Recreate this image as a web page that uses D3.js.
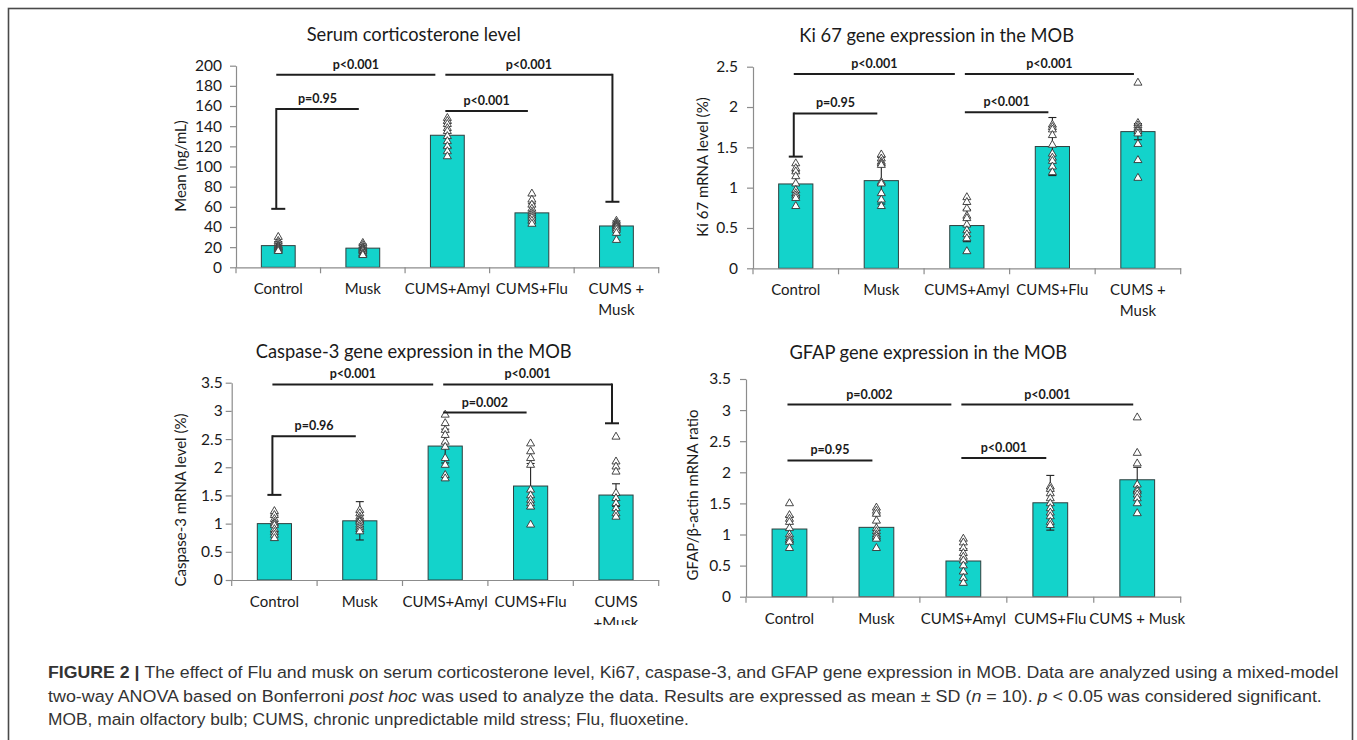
<!DOCTYPE html>
<html><head><meta charset="utf-8">
<script src="https://cdn.jsdelivr.net/npm/d3@7"></script>
<style>body{margin:0;background:#fff}svg{display:block}</style>
</head><body>
<svg id="c" width="1357" height="740"></svg>
<script>
// ---------------- DATA ----------------
const categories = ["Control", "Musk", "CUMS+Amyl", "CUMS+Flu", "CUMS + Musk"];
const labelsTop = [["Control"], ["Musk"], ["CUMS+Amyl"], ["CUMS+Flu"], ["CUMS +", "Musk"]];
const labelsCasp = [["Control"], ["Musk"], ["CUMS+Amyl"], ["CUMS+Flu"], ["CUMS", "+Musk"]];
const labelsGfap = [["Control"], ["Musk"], ["CUMS+Amyl"], ["CUMS+Flu"], ["CUMS + Musk"]];

const serumTitle = "Serum corticosterone level";
const serumYLabel = "Mean (ng/mL)";
const serumTicks = [0, 20, 40, 60, 80, 100, 120, 140, 160, 180, 200];
const serumMeans = [21.5, 19, 131, 54, 41];
const serumSD = [4, 4, 12, 9, 5];
const serumPoints = [
  [30, 26, 24, 22, 21, 20, 19, 18, 17, 16],
  [24, 22, 20, 19, 18, 17, 16, 14, 13, 12],
  [148, 145, 142, 138, 135, 130, 125, 120, 115, 110],
  [73, 67, 62, 58, 55, 53, 51, 49, 46, 43],
  [46, 44, 43, 42, 41, 40, 39, 37, 34, 27]
];
const serumBrackets = [
  {a: "Control", b: "Musk", v: 157, text: "p=0.95", dropA: 58},
  {a: "Control", b: "CUMS+Amyl", v: 191, text: "p<0.001"},
  {a: "CUMS+Amyl", b: "CUMS + Musk", v: 191, text: "p<0.001", dropB: 65},
  {a: "CUMS+Amyl", b: "CUMS+Flu", v: 155, text: "p<0.001"}
];

const kiTitle = "Ki 67 gene expression in the MOB";
const kiYLabel = "Ki 67 mRNA level (%)";
const kiTicks = [0, 0.5, 1, 1.5, 2, 2.5];
const kiMeans = [1.046, 1.087, 0.53, 1.51, 1.695];
const kiSD = [0.15, 0.29, 0.2, 0.36, 0.1];
const kiPoints = [
  [1.30, 1.24, 1.20, 1.14, 1.05, 0.97, 0.93, 0.90, 0.87, 0.77],
  [1.41, 1.36, 1.32, 1.30, 1.28, 1.07, 1.05, 0.93, 0.85, 0.77],
  [0.88, 0.82, 0.74, 0.65, 0.62, 0.54, 0.47, 0.42, 0.37, 0.21],
  [1.78, 1.75, 1.72, 1.65, 1.53, 1.42, 1.37, 1.33, 1.26, 1.19],
  [2.30, 1.80, 1.77, 1.74, 1.72, 1.70, 1.67, 1.54, 1.34, 1.12]
];
const kiBrackets = [
  {a: "Control", b: "Musk", v: 1.92, text: "p=0.95", dropA: 1.385},
  {a: "Control", b: "CUMS+Amyl", v: 2.41, text: "p<0.001"},
  {a: "CUMS+Amyl", b: "CUMS + Musk", v: 2.41, text: "p<0.001"},
  {a: "CUMS+Amyl", b: "CUMS+Flu", v: 1.935, text: "p<0.001"}
];

const caspTitle = "Caspase-3 gene expression in the MOB";
const caspYLabel = "Caspase-3 mRNA level (%)";
const caspTicks = [0, 0.5, 1, 1.5, 2, 2.5, 3, 3.5];
const caspMeans = [1.0, 1.05, 2.376, 1.667, 1.507];
const caspSD = [0.15, 0.34, 0.3, 0.4, 0.2];
const caspPoints = [
  [1.22, 1.15, 1.08, 1.03, 1.00, 0.97, 0.90, 0.85, 0.80, 0.74],
  [1.24, 1.18, 1.12, 1.08, 1.05, 1.03, 0.98, 0.94, 0.90, 0.86],
  [2.93, 2.78, 2.66, 2.57, 2.45, 2.36, 2.16, 2.04, 1.86, 1.80],
  [2.42, 2.28, 2.16, 2.04, 1.60, 1.50, 1.42, 1.36, 1.30, 0.98],
  [2.54, 2.10, 2.01, 1.92, 1.54, 1.45, 1.36, 1.27, 1.18, 1.12]
];
const caspBrackets = [
  {a: "Control", b: "Musk", v: 2.55, text: "p=0.96", dropA: 1.51},
  {a: "Control", b: "CUMS+Amyl", v: 3.47, text: "p<0.001"},
  {a: "CUMS+Amyl", b: "CUMS + Musk", v: 3.47, text: "p<0.001", dropB: 2.78},
  {a: "CUMS+Amyl", b: "CUMS+Flu", v: 2.97, text: "p=0.002"}
];

const gfapTitle = "GFAP gene expression in the MOB";
const gfapYLabel = "GFAP/β-actin mRNA ratio";
const gfapTicks = [0, 0.5, 1, 1.5, 2, 2.5, 3, 3.5];
const gfapMeans = [1.088, 1.115, 0.574, 1.51, 1.88];
const gfapSD = [0.2, 0.2, 0.2, 0.44, 0.2];
const gfapPoints = [
  [1.50, 1.31, 1.25, 1.20, 1.10, 1.00, 0.95, 0.91, 0.88, 0.78],
  [1.43, 1.38, 1.33, 1.22, 1.10, 1.05, 1.00, 0.97, 0.93, 0.78],
  [0.93, 0.87, 0.78, 0.70, 0.64, 0.58, 0.50, 0.40, 0.30, 0.22],
  [1.77, 1.73, 1.66, 1.58, 1.50, 1.42, 1.35, 1.29, 1.20, 1.15],
  [2.88, 2.31, 2.14, 1.80, 1.72, 1.69, 1.64, 1.58, 1.50, 1.34]
];
const gfapBrackets = [
  {a: "Control", b: "Musk", v: 2.19, text: "p=0.95"},
  {a: "Control", b: "CUMS+Amyl", v: 3.09, text: "p=0.002"},
  {a: "CUMS+Amyl", b: "CUMS + Musk", v: 3.09, text: "p<0.001"},
  {a: "CUMS+Amyl", b: "CUMS+Flu", v: 2.23, text: "p<0.001"}
];

const captionLines = [
  [{t: "FIGURE 2 | ", b: true}, {t: "The effect of Flu and musk on serum corticosterone level, Ki67, caspase-3, and GFAP gene expression in MOB. Data are analyzed using a mixed-model"}],
  [{t: "two-way ANOVA based on Bonferroni "}, {t: "post hoc", i: true}, {t: " was used to analyze the data. Results are expressed as mean \u00b1 SD ("}, {t: "n", i: true}, {t: " = 10). "}, {t: "p", i: true}, {t: " < 0.05 was considered significant."}],
  [{t: "MOB, main olfactory bulb; CUMS, chronic unpredictable mild stress; Flu, fluoxetine."}]
];

// ---------------- DRAWING ----------------
const FONT = "Lato, 'Open Sans', sans-serif";
const BAR = "#13d3cb";
const svg = d3.select("#c");
svg.append("rect").attr("x", 8.5).attr("y", 8.5).attr("width", 1344).attr("height", 780)
  .attr("fill", "none").attr("stroke", "#4a4a4a").attr("stroke-width", 1.6);

const defs = svg.append("defs");

function drawPanel(cfg) {
  const x = d3.scaleBand().domain(categories).range([cfg.left, cfg.right]);
  const y = d3.scaleLinear().domain([0, d3.max(cfg.ticks)]).range([cfg.bottom, cfg.top]);
  const g = svg.append("g");
  const cx = c => x(c) + x.bandwidth() / 2;
  const bw = x.bandwidth() * 0.4;

  // title
  g.append("text").attr("x", cfg.titleX).attr("y", cfg.titleY).attr("text-anchor", "middle")
    .attr("font-family", FONT).attr("font-size", 18.3).attr("fill", "#1a1a1a").text(cfg.title);

  // y label
  g.append("text").attr("transform", `translate(${cfg.ylabX},${cfg.ylabY}) rotate(-90)`)
    .attr("text-anchor", "middle").attr("font-family", FONT).attr("font-size", 15)
    .attr("fill", "#1a1a1a").text(cfg.ylabel);

  // bars
  g.selectAll("rect.bar").data(cfg.means).join("rect").attr("class", "bar")
    .attr("x", (d, i) => cx(categories[i]) - bw / 2).attr("y", d => y(d))
    .attr("width", bw).attr("height", d => y(0) - y(d))
    .attr("fill", BAR).attr("stroke", "#2f3f3e").attr("stroke-width", 1);

  // error bars
  cfg.means.forEach((m, i) => {
    const c = cx(categories[i]), s = cfg.sd[i];
    const eg = g.append("g").attr("stroke", "#222").attr("stroke-width", 1.1);
    eg.append("line").attr("x1", c).attr("x2", c).attr("y1", y(m - s)).attr("y2", y(m + s));
    [m - s, m + s].forEach(v => eg.append("line").attr("x1", c - 4).attr("x2", c + 4).attr("y1", y(v)).attr("y2", y(v)));
  });

  // points
  const tri = d3.symbol().type(d3.symbolTriangle).size(28);
  cfg.points.forEach((arr, i) => {
    g.selectAll(null).data(arr).join("path")
      .attr("d", tri).attr("transform", v => `translate(${cx(categories[i])},${y(v)})`)
      .attr("fill", "#fff").attr("stroke", "#333").attr("stroke-width", 0.9);
  });

  // y axis
  const ya = g.append("g").attr("transform", `translate(${cfg.left},0)`)
    .call(d3.axisLeft(y).tickValues(cfg.ticks).tickSize(6).tickSizeOuter(0).tickPadding(cfg.pad).tickFormat(d => String(d)));
  ya.select(".domain").attr("stroke", "#8c8c8c").attr("stroke-width", 1.2);
  ya.selectAll(".tick line").attr("stroke", "#8c8c8c").attr("stroke-width", 1.2);
  ya.selectAll(".tick text").attr("font-family", FONT).attr("font-size", 15.5).attr("fill", "#1a1a1a");

  // x axis
  const xa = g.append("g").attr("transform", `translate(0,${cfg.bottom})`)
    .call(d3.axisBottom(x).tickSize(0).tickSizeOuter(0).tickFormat(""));
  xa.select(".domain").attr("stroke", "#8c8c8c").attr("stroke-width", 1.2);
  const edges = categories.map(c => x(c)).concat([x.range()[1]]);
  g.selectAll(null).data(edges).join("line")
    .attr("x1", d => d).attr("x2", d => d).attr("y1", cfg.bottom).attr("y2", cfg.bottom + 6)
    .attr("stroke", "#8c8c8c").attr("stroke-width", 1.2);

  // x labels
  let lg = g.append("g");
  if (cfg.clipY) {
    const id = "clip" + Math.round(cfg.left);
    defs.append("clipPath").attr("id", id).append("rect").attr("x", 0).attr("y", 0).attr("width", 1357).attr("height", cfg.clipY);
    lg.attr("clip-path", `url(#${id})`);
  }
  cfg.labels.forEach((lines, i) => {
    const t = lg.append("text").attr("text-anchor", "middle").attr("font-family", FONT)
      .attr("font-size", 15).attr("fill", "#1a1a1a");
    lines.forEach((ln, j) => t.append("tspan").attr("x", cx(categories[i])).attr("y", cfg.bottom + 27 + j * 20.5).text(ln));
  });

  // brackets
  const bg = g.append("g");
  cfg.brackets.forEach(br => {
    const chained = cfg.brackets.some(o => o !== br && o.a === br.b && o.v === br.v);
    const x1 = cx(br.a) - 2;
    const x2 = cx(br.b) - (chained ? 12 : 4);
    const yy = y(br.v);
    bg.append("line").attr("x1", x1).attr("x2", x2).attr("y1", yy).attr("y2", yy)
      .attr("stroke", "#1e1e1e").attr("stroke-width", 2);
    if (br.dropA !== undefined) {
      bg.append("line").attr("x1", x1).attr("x2", x1).attr("y1", yy - 1).attr("y2", y(br.dropA)).attr("stroke", "#1e1e1e").attr("stroke-width", 2);
      bg.append("line").attr("x1", x1 - 5).attr("x2", x1 + 9).attr("y1", y(br.dropA)).attr("y2", y(br.dropA)).attr("stroke", "#1e1e1e").attr("stroke-width", 2);
    }
    if (br.dropB !== undefined) {
      bg.append("line").attr("x1", x2).attr("x2", x2).attr("y1", yy - 1).attr("y2", y(br.dropB)).attr("stroke", "#1e1e1e").attr("stroke-width", 2);
      bg.append("line").attr("x1", x2 - 7).attr("x2", x2 + 7).attr("y1", y(br.dropB)).attr("y2", y(br.dropB)).attr("stroke", "#1e1e1e").attr("stroke-width", 2);
    }
    bg.append("text").attr("x", (x1 + x2) / 2).attr("y", yy - 6).attr("text-anchor", "middle")
      .attr("font-family", FONT).attr("font-weight", "bold").attr("font-size", 12.5).attr("fill", "#1a1a1a").text(br.text);
  });
}

drawPanel({title: serumTitle, ylabel: serumYLabel, ticks: serumTicks, means: serumMeans, sd: serumSD, points: serumPoints,
  brackets: serumBrackets, labels: labelsTop,
  left: 236, right: 658.7, bottom: 267.3, top: 65.7, pad: 8, titleX: 413.7, titleY: 41, ylabX: 186, ylabY: 166});
drawPanel({title: kiTitle, ylabel: kiYLabel, ticks: kiTicks, means: kiMeans, sd: kiSD, points: kiPoints,
  brackets: kiBrackets, labels: labelsTop,
  left: 753, right: 1180.7, bottom: 268.3, top: 66.7, pad: 9, titleX: 936.7, titleY: 42, ylabX: 708, ylabY: 167});
drawPanel({title: caspTitle, ylabel: caspYLabel, ticks: caspTicks, means: caspMeans, sd: caspSD, points: caspPoints,
  brackets: caspBrackets, labels: labelsCasp, clipY: 625,
  left: 231.7, right: 658.7, bottom: 580, top: 382.7, pad: 3, titleX: 413.7, titleY: 358, ylabX: 186, ylabY: 500});
drawPanel({title: gfapTitle, ylabel: gfapYLabel, ticks: gfapTicks, means: gfapMeans, sd: gfapSD, points: gfapPoints,
  brackets: gfapBrackets, labels: labelsGfap,
  left: 746, right: 1180.7, bottom: 596.7, top: 379, pad: 9, titleX: 928.3, titleY: 359, ylabX: 698, ylabY: 495});

// caption
const capWidths = [1291, 1274, 641];
captionLines.forEach((parts, k) => {
  const t = svg.append("text").attr("font-family", "'Liberation Sans', Arial, sans-serif")
    .attr("font-size", 16.5).attr("fill", "#333");
  parts.forEach(p => t.append("tspan").attr("font-weight", p.b ? "bold" : null)
    .attr("font-style", p.i ? "italic" : null).text(p.t));
  const w = t.node().getComputedTextLength();
  t.attr("transform", `translate(48,${678 + k * 23.5}) scale(${capWidths[k] / w},1)`);
});
</script>
</body></html>
